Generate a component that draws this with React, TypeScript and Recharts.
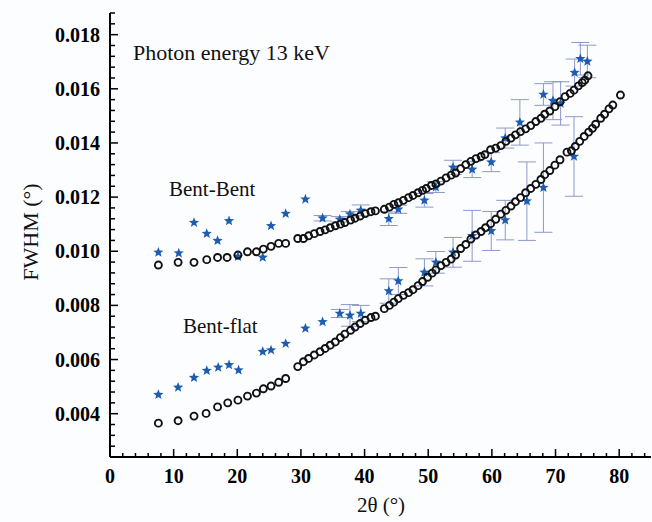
import { ScatterChart, Scatter, XAxis, YAxis, ErrorBar } from 'recharts';

// Bent-Bent, calculated (open circles)
const bbCalcX = [7.6, 10.7, 13.2, 15.2, 16.9, 18.4, 20.1, 21.6, 23.0, 24.1, 25.3, 26.5, 27.6, 29.5, 30.4, 31.2, 32.1, 33.0, 33.8, 34.6, 35.4, 36.2, 36.9, 37.8, 38.5, 39.3, 40.1, 41.0, 41.7, 43.1, 43.9, 44.6, 45.3, 46.1, 46.9, 47.6, 48.4, 49.1, 49.7, 50.5, 51.2, 52.0, 52.8, 53.6, 54.3, 55.1, 55.9, 56.7, 57.5, 58.3, 58.9, 59.8, 60.6, 61.4, 62.2, 63.0, 63.7, 64.5, 65.3, 66.1, 66.9, 67.7, 68.3, 69.1, 69.9, 70.7, 71.5, 72.3, 72.9, 73.6, 74.2, 74.6, 75.1];
const bbCalcY = [0.00949, 0.00959, 0.00959, 0.00969, 0.00977, 0.00977, 0.00986, 0.00998, 0.00998, 0.01008, 0.01018, 0.01029, 0.01029, 0.01047, 0.01047, 0.01057, 0.01065, 0.01073, 0.01079, 0.01087, 0.01094, 0.0110, 0.01106, 0.01115, 0.01122, 0.0113, 0.01139, 0.01146, 0.01149, 0.01155, 0.01163, 0.01173, 0.01179, 0.01188, 0.01198, 0.01206, 0.01216, 0.01225, 0.01232, 0.01243, 0.01249, 0.01259, 0.01271, 0.01281, 0.01289, 0.01305, 0.0132, 0.01332, 0.01342, 0.0135, 0.01357, 0.01375, 0.01381, 0.0139, 0.01406, 0.01418, 0.0143, 0.01442, 0.01452, 0.01464, 0.01479, 0.01491, 0.01506, 0.01518, 0.01534, 0.01552, 0.01571, 0.01583, 0.01595, 0.01611, 0.01623, 0.01632, 0.01648];

// Bent-Bent, measured (stars) with error
const bbMeasX = [7.6, 10.8, 13.2, 15.2, 16.9, 18.7, 20.1, 24.0, 25.3, 27.6, 30.7, 33.4, 36.1, 37.7, 39.4, 43.8, 45.3, 49.4, 51.2, 53.9, 56.9, 59.9, 62.1, 64.4, 68.1, 69.6, 70.8, 73.0, 73.9, 75.0];
const bbMeasY = [0.00996, 0.00993, 0.01106, 0.01065, 0.01039, 0.01112, 0.0098, 0.00977, 0.01094, 0.01139, 0.01192, 0.01122, 0.01118, 0.01137, 0.01151, 0.0112, 0.01155, 0.01188, 0.01237, 0.0131, 0.01302, 0.01329, 0.01418, 0.01476, 0.01579, 0.01556, 0.01546, 0.0166, 0.01711, 0.01701];
const bbMeasErr = [null, null, null, null, null, null, null, null, null, null, null, 0.0001, 0.0001, 0.0001, 0.0002, 0.00025, 0.00015, 0.00025, 0.0002, 0.00026, 0.0003, 0.00035, 0.00037, 0.00084, 0.0004, 0.0007, 0.0008, 0.0005, 0.0006, 0.0006];

// Bent-flat, calculated (open circles)
const bfCalcX = [7.6, 10.7, 13.2, 15.1, 16.9, 18.5, 20.1, 21.6, 23.0, 24.1, 25.3, 26.5, 27.6, 29.5, 30.4, 31.2, 32.1, 33.0, 33.8, 34.6, 35.4, 36.2, 36.9, 37.8, 38.5, 39.3, 40.1, 41.0, 41.7, 43.1, 43.9, 44.6, 45.3, 46.1, 46.9, 47.6, 48.4, 49.1, 49.9, 50.6, 51.2, 52.0, 52.8, 53.6, 54.3, 55.1, 55.9, 56.7, 57.5, 58.3, 59.0, 59.8, 60.6, 61.4, 62.2, 63.0, 63.7, 64.5, 65.3, 66.1, 66.9, 67.7, 68.3, 69.1, 69.9, 70.7, 71.8, 72.5, 73.1, 73.8, 74.5, 75.2, 75.8, 76.3, 77.1, 77.7, 78.4, 79.0, 80.2];
const bfCalcY = [0.00365, 0.00374, 0.00391, 0.00401, 0.00425, 0.0044, 0.0045, 0.00465, 0.00476, 0.00492, 0.00502, 0.00516, 0.0053, 0.00574, 0.00592, 0.00604, 0.00617, 0.00629, 0.00641, 0.00653, 0.00665, 0.00681, 0.00694, 0.00708, 0.0072, 0.00733, 0.00745, 0.00755, 0.0076, 0.00788, 0.008, 0.00812, 0.00825, 0.00837, 0.00847, 0.00858, 0.00873, 0.00888, 0.00904, 0.00919, 0.00931, 0.00947, 0.00959, 0.00971, 0.00986, 0.0101, 0.01025, 0.01045, 0.0106, 0.01073, 0.01087, 0.01102, 0.01118, 0.01137, 0.01151, 0.01167, 0.01183, 0.01198, 0.01216, 0.01232, 0.01247, 0.01265, 0.01283, 0.01298, 0.01318, 0.01338, 0.01366, 0.01371, 0.01387, 0.01406, 0.01424, 0.0144, 0.01454, 0.01469, 0.01491, 0.01506, 0.01526, 0.0154, 0.01577];

// Bent-flat, measured (stars) with error
const bfMeasX = [7.6, 10.7, 13.2, 15.2, 17.0, 18.7, 20.2, 24.0, 25.3, 27.6, 30.7, 33.4, 36.1, 37.7, 39.4, 43.8, 45.3, 49.4, 51.2, 53.9, 56.9, 59.9, 62.1, 65.5, 68.1, 72.9];
const bfMeasY = [0.0047, 0.00497, 0.00533, 0.00559, 0.00571, 0.0058, 0.00561, 0.00629, 0.00635, 0.00659, 0.00715, 0.00739, 0.0077, 0.00763, 0.0077, 0.00853, 0.0089, 0.00922, 0.00959, 0.00996, 0.01057, 0.01075, 0.01115, 0.01185, 0.01235, 0.0135];
const bfMeasErr = [null, null, null, null, null, null, null, null, null, null, null, null, 0.00015, 0.0004, 0.0003, 0.00045, 0.0005, 0.0005, 0.0004, 0.00055, 0.00094, 0.00072, 0.00073, 0.00145, 0.00165, 0.00147];

const xMajor = [0, 10, 20, 30, 40, 50, 60, 70, 80];
const yMajor = [0.004, 0.006, 0.008, 0.01, 0.012, 0.014, 0.016, 0.018];
const xDomain = [0, 85];
const yDomain = [0.0024, 0.0188];

const xTicks: number[] = [];
for (let v = 0; v <= 84; v += 2) xTicks.push(v);
const yTicks: number[] = [];
for (let i = 0; i <= 41; i++) yTicks.push(Math.round((0.0024 + i * 0.0004) * 1e5) / 1e5);

const pts = (xs: number[], ys: number[], errs?: (number | null)[]) =>
  xs.map((x, i) => ({ x, y: ys[i], err: errs ? errs[i] : null }));

const bbCalc = pts(bbCalcX, bbCalcY);
const bbMeas = pts(bbMeasX, bbMeasY, bbMeasErr);
const bfCalc = pts(bfCalcX, bfCalcY);
const bfMeas = pts(bfMeasX, bfMeasY, bfMeasErr);

const isMajorX = (v: number) => xMajor.includes(v);
const isMajorY = (v: number) => yMajor.some((m) => Math.abs(m - v) < 1e-7);

const tickFont = { fontFamily: 'Liberation Serif', fontWeight: 700, fontSize: 20, fill: '#000' };

const BottomTick = ({ x, y, payload }: any) => {
  const major = isMajorX(payload.value);
  return (
    <g>
      <line x1={x} x2={x} y1={y} y2={y - (major ? 8 : 4)} stroke="#000" strokeWidth={1.5} />
      {major && (
        <text x={x} y={y + 26} textAnchor="middle" {...tickFont}>
          {payload.value}
        </text>
      )}
    </g>
  );
};

const TopTick = ({ x, y, payload }: any) => {
  const major = isMajorX(payload.value);
  return <line x1={x} x2={x} y1={y} y2={y + (major ? 8 : 4)} stroke="#000" strokeWidth={1.5} />;
};

const LeftTick = ({ x, y, payload }: any) => {
  const major = isMajorY(payload.value);
  return (
    <g>
      <line x1={x} x2={x + (major ? 8 : 5)} y1={y} y2={y} stroke="#000" strokeWidth={1.5} />
      {major && (
        <text x={x - 10} y={y + 7} textAnchor="end" {...tickFont}>
          {payload.value.toFixed(3)}
        </text>
      )}
    </g>
  );
};

const RightTick = ({ x, y, payload }: any) => {
  const major = isMajorY(payload.value);
  return <line x1={x} x2={x - (major ? 7 : 4)} y1={y} y2={y} stroke="#555" strokeWidth={1} />;
};

const OpenCircle = (props: any) => (
  <circle cx={props.cx} cy={props.cy} r={3.5} fill="none" stroke="#111" strokeWidth={1.9} />
);

const Star = (props: any) => {
  const { cx, cy } = props;
  const ro = 5.4;
  const ri = 2.3;
  let d = '';
  for (let i = 0; i < 10; i++) {
    const r = i % 2 === 0 ? ro : ri;
    const a = -Math.PI / 2 + (i * Math.PI) / 5;
    d += (i === 0 ? 'M' : 'L') + (cx + r * Math.cos(a)).toFixed(2) + ',' + (cy + r * Math.sin(a)).toFixed(2);
  }
  return <path d={d + 'Z'} fill="#1d5caf" />;
};

const serif = { fontFamily: 'Liberation Serif', fontSize: 21, fill: '#111' };

export default function App() {
  return (
    <div style={{ position: 'absolute', left: 0, top: 0, width: 652, height: 522, background: '#fcfdff' }}>
      <ScatterChart width={652} height={522} margin={{ top: 13, right: 1, left: 0, bottom: 0 }}>
        <XAxis
          xAxisId="b"
          type="number"
          dataKey="x"
          domain={xDomain}
          ticks={xTicks}
          interval={0}
          tick={<BottomTick />}
          tickLine={false}
          tickSize={0}
          tickMargin={0}
          height={65}
          axisLine={{ stroke: '#000', strokeWidth: 2 }}
          allowDataOverflow
        />
        <XAxis
          xAxisId="t"
          orientation="top"
          type="number"
          dataKey="x"
          domain={xDomain}
          ticks={xTicks}
          interval={0}
          tick={<TopTick />}
          tickLine={false}
          tickSize={0}
          tickMargin={0}
          height={0}
          axisLine={{ stroke: '#000', strokeWidth: 2 }}
          allowDataOverflow
        />
        <YAxis
          yAxisId="l"
          type="number"
          dataKey="y"
          domain={yDomain}
          ticks={yTicks}
          interval={0}
          tick={<LeftTick />}
          tickLine={false}
          tickSize={0}
          tickMargin={0}
          width={110}
          axisLine={{ stroke: '#000', strokeWidth: 2 }}
          allowDataOverflow
        />
        <YAxis
          yAxisId="r"
          orientation="right"
          type="number"
          dataKey="y"
          domain={yDomain}
          ticks={yTicks}
          interval={0}
          tick={<RightTick />}
          tickLine={false}
          tickSize={0}
          tickMargin={0}
          width={0}
          axisLine={{ stroke: '#666', strokeWidth: 1 }}
          allowDataOverflow
        />
        <Scatter xAxisId="b" yAxisId="l" data={bbMeas} shape={<Star />} isAnimationActive={false}>
          <ErrorBar dataKey="err" direction="y" width={9} stroke="#8d98cc" strokeWidth={1} />
        </Scatter>
        <Scatter xAxisId="b" yAxisId="l" data={bfMeas} shape={<Star />} isAnimationActive={false}>
          <ErrorBar dataKey="err" direction="y" width={9} stroke="#8d98cc" strokeWidth={1} />
        </Scatter>
        <Scatter xAxisId="b" yAxisId="l" data={bbCalc} shape={<OpenCircle />} isAnimationActive={false} />
        <Scatter xAxisId="b" yAxisId="l" data={bfCalc} shape={<OpenCircle />} isAnimationActive={false} />
      </ScatterChart>
      <svg width={652} height={522} style={{ position: 'absolute', left: 0, top: 0, pointerEvents: 'none' }}>
        <text x={133} y={60} {...serif} fontSize={22}>Photon energy 13 keV</text>
        <text x={169} y={196} {...serif}>Bent-Bent</text>
        <text x={183} y={333} {...serif}>Bent-flat</text>
        <text x={381} y={512} textAnchor="middle" {...serif}>2θ (°)</text>
        <text x={30} y={232} textAnchor="middle" transform="rotate(-90, 30, 232)" dominantBaseline="central" {...serif} fontSize={22}>
          FWHM (°)
        </text>
      </svg>
    </div>
  );
}
